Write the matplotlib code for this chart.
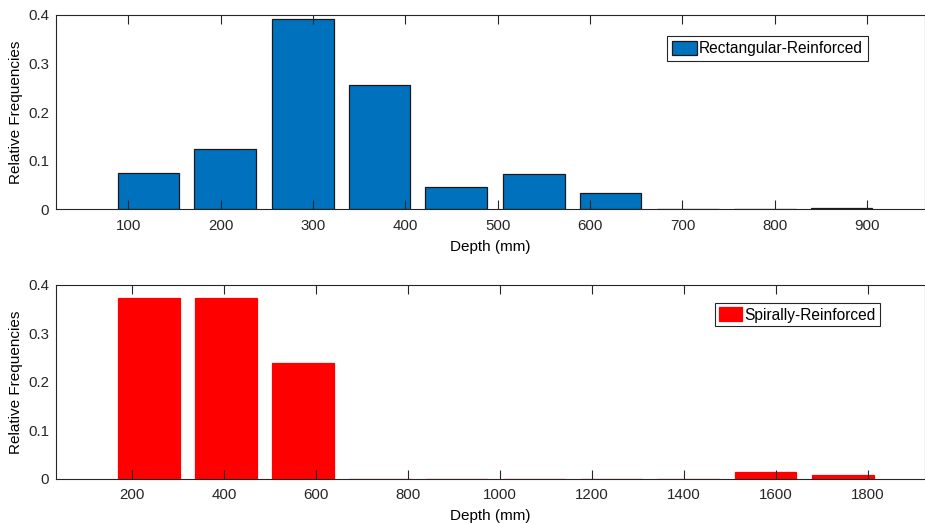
import matplotlib.pyplot as plt
from matplotlib.ticker import FuncFormatter

plt.rcParams['font.family'] = ['Liberation Sans', 'DejaVu Sans']

# histogram bins (bin centre in mm, relative frequency)
rect_centers = [122, 205, 289, 372, 455, 539, 622, 706, 789, 872]
rect_freq = [0.075, 0.124, 0.392, 0.255, 0.046, 0.072, 0.033, 0.0, 0.0, 0.003]
rect_ticks = [100, 200, 300, 400, 500, 600, 700, 800, 900]

spiral_centers = [236, 404, 571, 739, 907, 1075, 1243, 1410, 1578, 1746]
spiral_freq = [0.373, 0.373, 0.238, 0.0, 0.0, 0.0, 0.0, 0.0, 0.013, 0.007]
spiral_ticks = [200, 400, 600, 800, 1000, 1200, 1400, 1600, 1800]

yticks = [0, 0.1, 0.2, 0.3, 0.4]

axis_color = '#262626'
fs = 10.8

fig = plt.figure(figsize=(9.25, 5.24), dpi=100)
ax1 = fig.add_axes([0.0605, 0.6002, 0.9395, 0.3712])
ax2 = fig.add_axes([0.0605, 0.0865, 0.9395, 0.3697])


def style(ax, xticks, xlim):
    ax.set_xlim(*xlim)
    ax.set_ylim(0, 0.4)
    ax.set_xticks(xticks)
    ax.set_yticks(yticks)
    ax.yaxis.set_major_formatter(FuncFormatter(lambda v, p: '0' if v == 0 else '%g' % v))
    ax.tick_params(axis='x', direction='in', length=6.3, width=0.8, top=True,
                   colors=axis_color, labelsize=fs, pad=6.5)
    ax.tick_params(axis='y', direction='in', length=0, colors=axis_color,
                   labelsize=fs, pad=5)
    for s in ax.spines.values():
        s.set_color(axis_color)
        s.set_linewidth(0.8)
    ax.set_xlabel('Depth (mm)', fontsize=11, color='black', labelpad=5.5)
    ax.set_ylabel('Relative Frequencies', fontsize=11, color='black')
    ax.yaxis.set_label_coords(-0.038, 0.5)


ax1.bar(rect_centers, rect_freq, width=66.7, color='#0072BD', edgecolor='#1a1a1a',
        linewidth=0.9, label='Rectangular-Reinforced', zorder=1)
style(ax1, rect_ticks, (21.8, 962.5))
leg1 = ax1.legend(loc='upper right', bbox_to_anchor=(0.934, 0.892), fontsize=11.2,
                  fancybox=False, edgecolor=axis_color, framealpha=1, borderaxespad=0,
                  handlelength=1.6, handleheight=1.0, handletextpad=0.15, borderpad=0.3)
leg1.get_frame().set_linewidth(0.8)

ax2.bar(spiral_centers, spiral_freq, width=134.2, color='#FF0000', edgecolor='#FF0000',
        linewidth=0.9, label='Spirally-Reinforced', zorder=1)
style(ax2, spiral_ticks, (34, 1925))
leg2 = ax2.legend(loc='upper right', bbox_to_anchor=(0.948, 0.905), fontsize=11.2,
                  fancybox=False, edgecolor=axis_color, framealpha=1, borderaxespad=0,
                  handlelength=1.5, handleheight=1.0, handletextpad=0.15, borderpad=0.25)
leg2.get_frame().set_linewidth(0.8)

fig.savefig('out.png', dpi=100)
